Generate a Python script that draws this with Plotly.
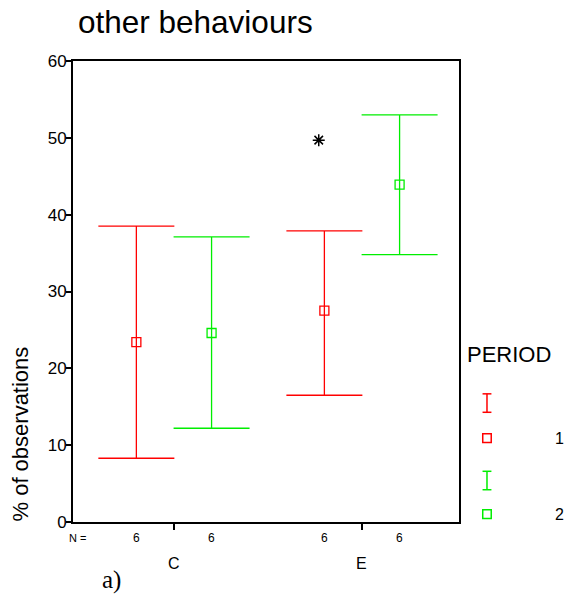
import plotly.graph_objects as go

groups = ["C", "E"]
periods = ["1", "2"]
colors = ["#ff0000", "#00ee00"]
means = {"1": [23.4, 27.5], "2": [24.6, 43.9]}
upper = {"1": [38.5, 37.9], "2": [37.1, 53.0]}
lower = {"1": [8.3, 16.5], "2": [12.2, 34.8]}
n_counts = {"1": [6, 6], "2": [6, 6]}
extreme_x = [2 - 0.23]
extreme_y = [49.7]
y_ticks = [0, 10, 20, 30, 40, 50, 60]

offsets = {"1": -0.2, "2": 0.2}
base = [1, 2]

fig = go.Figure()
for p, c in zip(periods, colors):
    xs = [b + offsets[p] for b in base]
    fig.add_trace(go.Scatter(
        x=xs, y=means[p], mode="markers",
        marker=dict(symbol="square-open", size=9, color=c, line=dict(width=1.3)),
        error_y=dict(type="data", symmetric=False,
                     array=[u - m for u, m in zip(upper[p], means[p])],
                     arrayminus=[m - l for m, l in zip(means[p], lower[p])],
                     color=c, thickness=1.3, width=38),
        showlegend=False))
    for x, n in zip(xs, n_counts[p]):
        fig.add_annotation(x=x, y=-0.035, xref="x", yref="paper", text=str(n),
                           showarrow=False, yanchor="middle",
                           font=dict(size=12, color="black", family="Liberation Sans"))

fig.add_trace(go.Scatter(x=extreme_x, y=extreme_y, mode="markers",
                         marker=dict(symbol="asterisk-open", size=10, color="black",
                                     line=dict(width=1.5, color="black")),
                         showlegend=False))

for b, g in zip(base, groups):
    fig.add_annotation(x=b, y=-0.09, xref="x", yref="paper", text=g,
                       showarrow=False, yanchor="middle",
                       font=dict(size=16, color="black", family="Liberation Sans"))

fig.add_annotation(x=(77 - 73) / 386, y=-0.035, xref="paper", yref="paper", text="N =",
                   showarrow=False, yanchor="middle", xanchor="center",
                   font=dict(size=11, color="black", family="Liberation Sans"))
fig.add_annotation(x=0.1, y=-0.125, xref="paper", yref="paper", text="a)",
                   showarrow=False, yanchor="middle", xanchor="center",
                   font=dict(size=25, color="black", family="Liberation Serif"))
fig.add_annotation(x=-0.137, y=0.19, xref="paper", yref="paper", text="% of observations",
                   showarrow=False, textangle=-90, xanchor="center", yanchor="middle",
                   font=dict(size=22, color="black", family="Liberation Sans"))

# legend drawn manually
fig.add_annotation(x=(466 - 73) / 386, y=0.363, xref="paper", yref="paper", text="PERIOD",
                   showarrow=False, xanchor="left", yanchor="middle", borderpad=0,
                   font=dict(size=22, color="black", family="Liberation Sans"))
leg_y = [(0.258, 0.182), (0.09, 0.017)]
for (yi, ys), c, p in zip(leg_y, colors, periods):
    fig.add_shape(type="line", xref="paper", yref="paper", x0=1.0725, x1=1.0725,
                  y0=yi - 0.02, y1=yi + 0.02, line=dict(color=c, width=1.5))
    for yy in (yi - 0.02, yi + 0.02):
        fig.add_shape(type="line", xref="paper", yref="paper", x0=1.061, x1=1.084,
                      y0=yy, y1=yy, line=dict(color=c, width=1.5))
    fig.add_shape(type="rect", xref="paper", yref="paper", x0=1.0615, x1=1.0835,
                  y0=ys - 0.0095, y1=ys + 0.0095, line=dict(color=c, width=1.5))
    fig.add_annotation(x=(565 - 73) / 386, y=ys, xref="paper", yref="paper", text=p,
                       showarrow=False, xanchor="right", yanchor="middle", borderpad=0,
                       font=dict(size=16, color="black", family="Liberation Sans"))

fig.update_layout(
    width=566, height=597,
    margin=dict(l=73, r=107, t=61, b=75),
    paper_bgcolor="white", plot_bgcolor="white",
    title=dict(text="other behaviours", x=78 / 566, xanchor="left", y=1 - 22 / 597,
               yanchor="middle", font=dict(size=31.5, color="black", family="Liberation Sans")),
    font=dict(family="Liberation Sans", color="black"),
    xaxis=dict(range=[0.463, 2.516], tickvals=base, ticktext=["", ""], ticks="outside",
               ticklen=6, tickwidth=1.5, tickcolor="black", showgrid=False, zeroline=False,
               showline=True, linecolor="black", linewidth=2, mirror=True),
    yaxis=dict(range=[0, 60], tickvals=y_ticks, ticks="outside", ticklen=5, tickwidth=1.5,
               tickcolor="black", showgrid=False, zeroline=False, showline=True,
               linecolor="black", linewidth=2, mirror=True, ticklabelstandoff=-4,
               tickfont=dict(size=17, color="black", family="Liberation Sans")),
)

fig.write_html("out.html")
